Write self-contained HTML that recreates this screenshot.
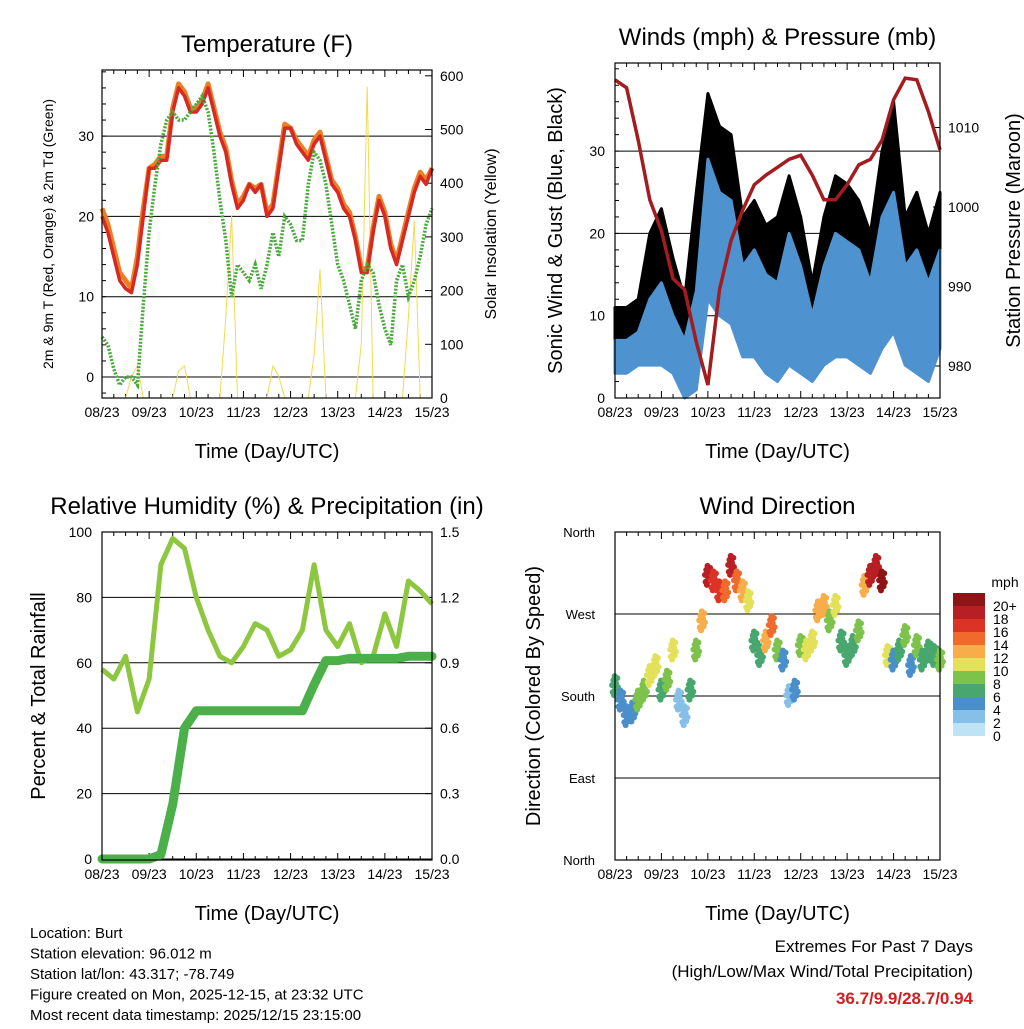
<!DOCTYPE html>
<html><head><meta charset="utf-8"><style>
body{margin:0;background:#fff}
svg{font-family:"Liberation Sans",sans-serif}
</style></head><body>
<svg id="c" width="1024" height="1024" viewBox="0 0 1024 1024"></svg>
<script>
// ---- data (6-hourly / 3-hourly samples over 7 days) ----
const dayLabels=["08/23","09/23","10/23","11/23","12/23","13/23","14/23","15/23"];
const temp2m=[20,18,15,12,11,10.5,14,20,26,26,27,27,33,36,35,33,33,34,36,33,30,28,24,21,22,24,23,24,20,21,26,31,31,29,28,27,29,30,27,24,23,21,20,17,13,13,18,22,20,16,14,17,20,23,25,24,26];
const temp9m=[21,19,16,13,12,11,15,21,26,26.5,27.5,27.5,33.5,36.5,35.5,33.5,33.5,34.5,36.5,33.5,30.5,28.5,24.5,21.5,22.5,24,23.5,24,20.5,21.5,26.5,31.5,31,29.5,28.5,27.5,29.5,30.5,27.5,24.5,23.5,21.5,20.5,17.5,13.5,13.5,18.5,22.5,20.5,16.5,14.5,17.5,20.5,23.5,25.5,24.5,26];
const dewpt=[5,4,1,-1,0,0,-1,9,18,24,29,32,33,32,32,33,34,35,33,28,22,17,10,14,13,12,14,11,14,18,15,20,19,17,17,24,28,27,24,19,14,12,9,6,12,14,13,9,6,4,12,14,10,12,15,19,21];
const solar=[0,0,0,0,0,40,60,0,0,0,0,0,0,50,60,0,0,0,0,0,0,150,340,0,0,0,0,0,0,60,40,0,0,0,0,0,80,240,0,0,0,0,0,0,100,580,0,0,0,0,0,0,150,330,0,0,0];
const pressure=[1016,1015,1008.4,1000.9,997,991,989.6,983,977.6,989.6,995.8,999.6,1002.8,1004,1005,1006,1006.5,1004,1000.9,1000.9,1002.8,1005.3,1006,1008.4,1013.5,1016.2,1016,1012,1007.2];
const gustHi=[11,11,12,20,23,17,12,25,37,33,32,22,24,21,22,27,22,14,22,27,26,24,20,30,36,22,25,20,25];
const gustLo=[6,6,7,7,9,6,1,5,18,16,15,10,10,7,5,9,7,3,8,10,10,8,6,12,15,8,6,5,12];
const windHi=[7,7,8,12,14,10,7,13,29,25,24,16,18,15,14,20,16,10,16,20,19,18,14,22,25,16,18,14,18];
const windLo=[3,3,4,4,4,3,0,1,12,10,9,5,5,3,2,4,3,2,4,5,5,4,3,6,8,4,3,2,6];
const dirDeg=[192,176,159,163,176,187,203,214,187,198,231,176,159,187,231,263,313,307,296,296,324,307,296,285,241,225,241,258,231,220,181,187,236,231,241,274,280,263,280,241,225,236,252,302,313,324,307,225,220,231,247,214,236,220,230,225,220];
const dirSpd=[6,5,4,5,8,9,10,11,6,8,10,3,2,6,9,12,18,17,16,14,19,15,12,10,6,7,12,14,8,4,2,5,9,10,11,12,12,8,10,7,6,7,9,12,18,19,20,11,5,7,9,4,8,6,7,6,8];
const rh=[58,55,62,45,55,90,98,95,80,70,62,60,65,72,70,62,64,70,90,70,65,72,60,62,75,65,85,82,78];
const precip=[0,0,0,0,0,0.02,0.25,0.6,0.68,0.68,0.68,0.68,0.68,0.68,0.68,0.68,0.68,0.68,0.8,0.91,0.91,0.92,0.92,0.92,0.92,0.92,0.93,0.93,0.93];
const spdLabels=["20+","18","16","14","12","10","8","6","4","2","0"];
const spdColors=["#8e1515","#b81f24","#dc3327","#f06a2c","#f6ad4a","#e3e05a","#7dc24b","#48a76e","#4a8fca","#86c0e8","#bde3f5"];

const svg=document.getElementById('c');
const NS="http://www.w3.org/2000/svg";
function el(tag,a,parent){const e=document.createElementNS(NS,tag);for(const k in a)e.setAttribute(k,a[k]);(parent||svg).appendChild(e);return e;}
function txt(s,x,y,size,anchor,parent,extra){const t=el('text',Object.assign({x:x,y:y,'font-size':size,'text-anchor':anchor||'middle',fill:'#000'},extra||{}),parent);t.textContent=s;return t;}
function colorFor(s){let i=Math.min(10,Math.floor(s/2));return spdColors[10-i];}

function panel(name,L,R,T,B,title,xt){
  const g=el('g',{});
  
  
  const xs=d=>L+(R-L)*d/7;
  dayLabels.forEach((lab,i)=>{const x=xs(i);
    el('line',{x1:x,x2:x,y1:B,y2:B-7,stroke:'#000'},g);el('line',{x1:x,x2:x,y1:T,y2:T+7,stroke:'#000'},g);
    const t=txt(lab,x,B+19,14,'middle',g);
    if(i<7)for(let k=1;k<4;k++){const xx=xs(i+k/4);el('line',{x1:xx,x2:xx,y1:B,y2:B-4,stroke:'#000'},g);el('line',{x1:xx,x2:xx,y1:T,y2:T+4,stroke:'#000'},g);}
  });
  const tt=txt(title,(L+R)/2,T-18,24,'middle',g);
  const xa=txt(xt,(L+R)/2,B+60,20,'middle',g);
  return {g,xs};
}
function box(g,L,R,T,B){el('rect',{x:L,y:T,width:R-L,height:B-T,fill:'none',stroke:'#000','stroke-width':1.2},g);}
function series(arr,step){return arr.map((v,i)=>[i*step,v]);}
function path(pts,xs,ys){return pts.map((p,i)=>(i?'L':'M')+xs(p[0]).toFixed(1)+','+ys(p[1]).toFixed(1)).join('');}

// ===== Panel 1: Temperature =====
(function(){
  const L=102,R=432,T=70,B=398;
  const {g,xs}=panel('temperature-panel',L,R,T,B,'Temperature (F)','Time (Day/UTC)');
  const ys=v=>377-v*8.03, ys2=v=>398-v*0.537;
  [0,10,20,30].forEach(v=>{el('line',{x1:L,x2:R,y1:ys(v),y2:ys(v),stroke:'#000','stroke-width':1},g);txt(String(v),L-8,ys(v)+5,14,'end',g);});
  for(let v=-2;v<=38;v+=2){el('line',{x1:L,x2:L+4,y1:ys(v),y2:ys(v),stroke:'#000'},g);}
  [0,100,200,300,400,500,600].forEach(v=>{el('line',{x1:R-7,x2:R,y1:ys2(v),y2:ys2(v),stroke:'#000'},g);txt(String(v),R+8,ys2(v)+5,14,'start',g);});
  const s=el('path',{d:path(series(solar,0.125),xs,ys2),fill:'none',stroke:'#f4d94e','stroke-width':1},g);
  
  const o=el('path',{d:path(series(temp9m,0.125),xs,ys),fill:'none',stroke:'#ef7d22','stroke-width':5,'stroke-linejoin':'round'},g);
  
  const r=el('path',{d:path(series(temp2m,0.125),xs,ys),fill:'none',stroke:'#d42a25','stroke-width':3.5,'stroke-linejoin':'round'},g);
  
  const d=el('path',{d:path(series(dewpt,0.125),xs,ys),fill:'none',stroke:'#4aa83c','stroke-width':3.5,'stroke-dasharray':'2 1.5'},g);
  
  box(g,L,R,T,B);
  const yl=txt('2m & 9m T (Red, Orange) & 2m Td (Green)',0,0,14,'middle',g,{transform:`translate(53,${(T+B)/2}) rotate(-90)`});
  
  const yr=txt('Solar Insolation (Yellow)',0,0,16,'middle',g,{transform:`translate(496,${(T+B)/2}) rotate(-90)`});
  
})();

// ===== Panel 2: Winds & Pressure =====
(function(){
  const L=615,R=940,T=63,B=398;
  const {g,xs}=panel('winds-panel',L,R,T,B,'Winds (mph) & Pressure (mb)','Time (Day/UTC)');
  const ys=v=>398-v*8.23, ys2=v=>366-(v-980)*7.95;
  [0,10,20,30].forEach(v=>{el('line',{x1:L,x2:R,y1:ys(v),y2:ys(v),stroke:'#000'},g);txt(String(v),L-10,ys(v)+5,14,'end',g);});
  for(let v=0;v<=40;v+=2)el('line',{x1:L,x2:L+4,y1:ys(v),y2:ys(v),stroke:'#000'},g);
  [980,990,1000,1010].forEach(v=>{el('line',{x1:R-7,x2:R,y1:ys2(v),y2:ys2(v),stroke:'#000'},g);txt(String(v),R+8,ys2(v)+5,14,'start',g);});
  const band=(hi,lo,col,nm)=>{const n=hi.length,st=7/(n-1);
    let d='';for(let i=0;i<n;i++)d+=(i?'L':'M')+xs(i*st).toFixed(1)+','+ys(hi[i]).toFixed(1);
    for(let i=n-1;i>=0;i--)d+='L'+xs(i*st).toFixed(1)+','+ys(lo[i]).toFixed(1);
    const p=el('path',{d:d+'Z',fill:col,stroke:col,'stroke-width':3,'stroke-linejoin':'round'},g);
    };
  band(gustHi,gustLo,'#000','gust-points');
  band(windHi,windLo,'#4e92cf','wind-points');
  const p=el('path',{d:path(series(pressure,0.25),xs,ys2),fill:'none',stroke:'#a31c1f','stroke-width':3.5},g);
  
  box(g,L,R,T,B);
  const yl=txt('Sonic Wind & Gust (Blue, Black)',0,0,20,'middle',g,{transform:`translate(562,${(T+B)/2}) rotate(-90)`});
  
  const yr=txt('Station Pressure (Maroon)',0,0,20,'middle',g,{transform:`translate(1020,${(T+B)/2}) rotate(-90)`});
  
})();

// ===== Panel 3: RH & Precip =====
(function(){
  const L=102,R=432,T=532,B=860;
  const {g,xs}=panel('humidity-panel',L,R,T,B,'Relative Humidity (%) & Precipitation (in)','Time (Day/UTC)');
  const ys=v=>859-v*3.27, ys2=v=>859-v*218;
  [0,20,40,60,80,100].forEach(v=>{el('line',{x1:L,x2:R,y1:ys(v),y2:ys(v),stroke:'#000'},g);txt(String(v),L-10,ys(v)+5,14,'end',g);});
  ['0.0','0.3','0.6','0.9','1.2','1.5'].forEach(v=>{el('line',{x1:R-7,x2:R,y1:ys2(+v),y2:ys2(+v),stroke:'#000'},g);txt(v,R+8,ys2(+v)+5,14,'start',g);});
  const h=el('path',{d:path(series(rh,0.25),xs,ys),fill:'none',stroke:'#8dc63f','stroke-width':5,'stroke-linejoin':'round'},g);
  
  const p=el('path',{d:path(series(precip,0.25),xs,ys2),fill:'none',stroke:'#4cb04a','stroke-width':9,'stroke-linejoin':'round','stroke-linecap':'round'},g);
  
  box(g,L,R,T,B);
  const yl=txt('Percent & Total Rainfall',0,0,20,'middle',g,{transform:`translate(45,${(T+B)/2}) rotate(-90)`});
  
})();

// ===== Panel 4: Wind Direction =====
(function(){
  const L=615,R=940,T=532,B=860;
  const {g,xs}=panel('wind-direction-panel',L,R,T,B,'Wind Direction','Time (Day/UTC)');
  const ys=v=>860-v*0.911;
  [['North',0],['East',90],['South',180],['West',270],['North',360]].forEach(([n,v])=>{el('line',{x1:L,x2:R,y1:ys(v),y2:ys(v),stroke:'#000'},g);txt(n,L-20,ys(v)+5,13,'end',g);});
  const st=7/(dirDeg.length-1);
  const jit=[0,7,-5,10,-9,4,-2,6,-7,2];
  dirDeg.forEach((v,i)=>{for(let k=0;k<10;k++){const c=el('circle',{cx:xs(i*st+(k/9-0.5)*st),cy:ys(v)+jit[k],r:3,fill:colorFor(dirSpd[i])},g);
    }});
  box(g,L,R,T,B);
  const yl=txt('Direction (Colored By Speed)',0,0,20,'middle',g,{transform:`translate(540,${(T+B)/2}) rotate(-90)`});
  
  const lg=el('g',{},g);
  txt('mph',1005,587,14,'middle',lg);
  spdLabels.forEach((s,i)=>{const y=593+i*13;el('rect',{x:953,y:y,width:32,height:13,fill:spdColors[i]},lg);txt(s,993,y+13+5,14,'start',lg);});
})();

// ===== Footer text =====
const info=["Location: Burt","Station elevation: 96.012 m","Station lat/lon: 43.317; -78.749","Figure created on Mon, 2025-12-15, at 23:32 UTC","Most recent data timestamp: 2025/12/15 23:15:00"];
info.forEach((s,i)=>{const t=txt(s,30,938+i*20.5,15,'start');});
const e1=txt('Extremes For Past 7 Days',973,952,17,'end');
const e2=txt('(High/Low/Max Wind/Total Precipitation)',973,977,17,'end');
const e3=txt('36.7/9.9/28.7/0.94',973,1004,17,'end',null,{fill:'#d02020','font-weight':'bold'});
</script>
</body></html>
